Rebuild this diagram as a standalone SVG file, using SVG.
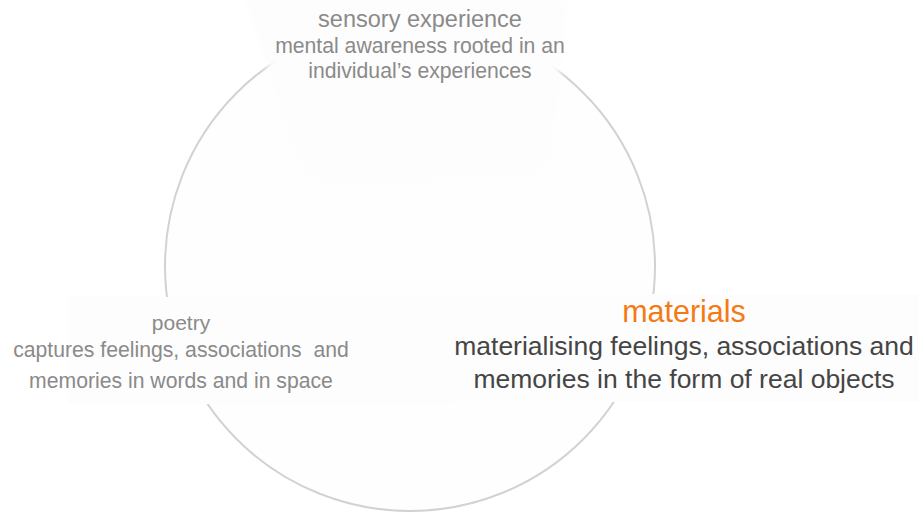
<svg xmlns="http://www.w3.org/2000/svg" width="919" height="512" viewBox="0 0 919 512">
  <style>
    text { font-family: "Liberation Sans", Arial, sans-serif; text-anchor: middle; }
    .muted { fill: #8a8a8a; }
    .title-s { font-size: 23.5px; }
    .body-s { font-size: 21.2px; }
    .title-p { font-size: 21px; }
    .body-p { font-size: 21.2px; }
    .title-m { font-size: 30.5px; fill: #f47a14; }
    .body-m { font-size: 26.5px; fill: #454545; }
    .panel { fill: #fdfdfd; }
  </style>
  <defs>
    <filter id="soft" x="-10%" y="-10%" width="120%" height="120%">
      <feGaussianBlur stdDeviation="4"/>
    </filter>
  </defs>
  <rect width="919" height="512" fill="#ffffff"/>

  <!-- connectors: the cycle ring -->
  <g id="connectors">
    <circle cx="410" cy="266" r="245" fill="#fefefe" stroke="#d2d2d2" stroke-width="2"/>
  </g>

  <g id="node-sensory">
    <path class="panel" filter="url(#soft)" d="M245,0 L568,0 L550,150 Q545,172 520,174 L340,182 Q310,183 300,160 Z"/>
    <text class="muted title-s" x="420" y="27">sensory experience</text>
    <text class="muted body-s" x="420" y="53">mental awareness rooted in an</text>
    <text class="muted body-s" x="420" y="78">individual’s experiences</text>
  </g>

  <g id="node-poetry">
    <rect class="panel" x="68" y="297" width="385" height="107"/>
    <text class="muted title-p" x="181" y="330">poetry</text>
    <text class="muted body-p" x="181" y="357" xml:space="preserve">captures feelings, associations  and</text>
    <text class="muted body-p" x="181" y="388">memories in words and in space</text>
  </g>

  <g id="node-materials">
    <rect class="panel" x="448" y="294" width="471" height="108"/>
    <text class="title-m" x="684" y="322">materials</text>
    <text class="body-m" x="684" y="355">materialising feelings, associations and</text>
    <text class="body-m" x="684" y="388">memories in the form of real objects</text>
  </g>
</svg>
